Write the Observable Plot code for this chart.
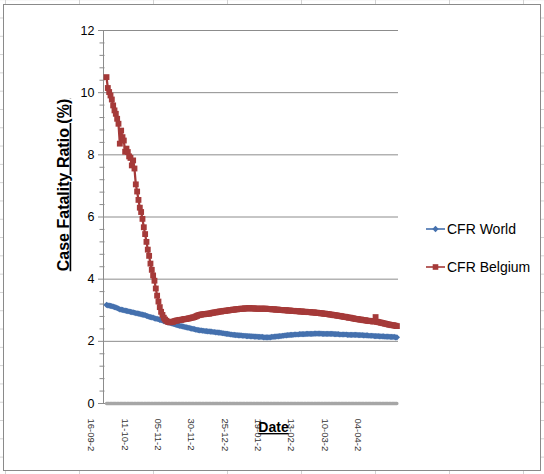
<!DOCTYPE html>
<html>
<head>
<meta charset="utf-8">
<script src="https://cdn.jsdelivr.net/npm/d3@7"></script>
<script src="https://cdn.jsdelivr.net/npm/@observablehq/plot@0.6"></script>
<style>
  html, body { margin: 0; padding: 0; background: #fff; }
  #page {
    position: relative; width: 544px; height: 474px; overflow: hidden;
    background-color: #fff;
    background-image:
      linear-gradient(to right, #d2d2d2 1px, transparent 1px),
      linear-gradient(to bottom, #d2d2d2 1px, transparent 1px);
    background-size: 74px 18.3px;
    background-position: 5px 17.5px;
  }
  #frame {
    position: absolute; left: 3px; top: 4px; width: 536px; height: 465px;
    border: 1px solid #8a8a8a; background: #fff;
  }
  #chart { position: absolute; left: 0; top: 0; }
  #legend { position: absolute; left: 426px; top: 0; font-family: "Liberation Sans", Arial, sans-serif; font-size: 14px; color: #000; }
  .row { position: absolute; left: 0; display: flex; align-items: center; white-space: nowrap; height: 16px; }
  .row svg { display: block; margin-right: 2px; }
</style>
</head>
<body>
<div id="page">
  <div id="frame"></div>
  <div id="chart"></div>
  <div id="legend"></div>
</div>
<script>
// ---- data ----
const seriesNames = ["CFR World", "CFR Belgium"];
const xTickLabels = ["16-09-2", "11-10-2", "05-11-2", "30-11-2", "25-12-2", "19-01-2", "13-02-2", "10-03-2", "04-04-2"];
const xTickDays = [0, 25, 50, 75, 100, 125, 150, 175, 200];
const yTicks = [0, 2, 4, 6, 8, 10, 12];
const yTitle = "Case Fatality Ratio (%)";
const xTitle = "Date";

const cfrWorld = [
  3.17,3.16,3.15,3.14,3.13,3.12,3.10,3.09,3.07,3.05,
  3.03,3.02,3.01,3.00,2.99,2.98,2.97,2.96,2.95,2.94,
  2.93,2.92,2.91,2.90,2.89,2.88,2.87,2.86,2.85,2.84,
  2.82,2.81,2.79,2.78,2.77,2.76,2.74,2.73,2.72,2.71,
  2.69,2.68,2.67,2.65,2.64,2.63,2.61,2.60,2.59,2.58,
  2.56,2.55,2.54,2.52,2.51,2.50,2.49,2.48,2.47,2.46,
  2.45,2.44,2.43,2.42,2.41,2.40,2.39,2.38,2.37,2.36,
  2.35,2.35,2.34,2.34,2.33,2.33,2.32,2.32,2.31,2.31,
  2.30,2.30,2.29,2.29,2.28,2.28,2.27,2.26,2.26,2.25,
  2.24,2.24,2.23,2.22,2.22,2.21,2.21,2.20,2.20,2.19,
  2.19,2.19,2.18,2.18,2.18,2.17,2.17,2.17,2.16,2.16,
  2.16,2.15,2.15,2.15,2.14,2.14,2.14,2.14,2.13,2.13,
  2.13,2.13,2.13,2.13,2.14,2.14,2.15,2.15,2.16,2.16,
  2.17,2.17,2.18,2.18,2.19,2.19,2.20,2.20,2.21,2.21,
  2.21,2.22,2.22,2.22,2.22,2.23,2.23,2.23,2.23,2.23,
  2.24,2.24,2.24,2.24,2.24,2.24,2.25,2.25,2.25,2.25,
  2.25,2.25,2.24,2.24,2.24,2.24,2.24,2.24,2.24,2.24,
  2.24,2.23,2.23,2.23,2.23,2.22,2.22,2.22,2.22,2.22,
  2.22,2.21,2.21,2.21,2.21,2.21,2.21,2.21,2.21,2.20,
  2.20,2.20,2.20,2.19,2.19,2.19,2.19,2.18,2.18,2.18,
  2.18,2.17,2.17,2.17,2.17,2.16,2.16,2.16,2.16,2.15,
  2.15,2.15,2.15,2.14,2.14,2.14,2.14,2.13,2.13
];

const cfrBelgium = [
  10.50,10.15,10.02,9.91,9.78,9.59,9.43,9.32,9.16,9.00,
  8.36,8.78,8.57,8.46,8.10,8.20,8.09,7.95,7.90,7.66,
  7.82,7.56,7.05,6.82,6.55,6.30,6.16,5.94,5.67,5.45,
  5.20,4.95,4.75,4.50,4.30,4.12,3.95,3.70,3.47,3.28,
  3.10,2.95,2.85,2.76,2.70,2.66,2.63,2.62,2.61,2.62,
  2.63,2.65,2.66,2.67,2.68,2.69,2.69,2.70,2.71,2.72,
  2.72,2.73,2.74,2.75,2.76,2.77,2.78,2.80,2.82,2.84,
  2.85,2.86,2.87,2.87,2.88,2.88,2.89,2.89,2.90,2.91,
  2.92,2.93,2.93,2.94,2.95,2.96,2.96,2.97,2.98,2.98,
  2.99,2.99,3.00,3.01,3.01,3.02,3.02,3.03,3.03,3.04,
  3.04,3.05,3.05,3.05,3.06,3.06,3.06,3.07,3.06,3.06,
  3.06,3.06,3.05,3.05,3.05,3.05,3.05,3.05,3.05,3.05,
  3.05,3.04,3.04,3.04,3.03,3.03,3.03,3.02,3.02,3.02,
  3.01,3.01,3.01,3.00,3.00,3.00,2.99,2.99,2.99,2.98,
  2.98,2.98,2.97,2.97,2.97,2.96,2.96,2.96,2.95,2.95,
  2.95,2.94,2.94,2.94,2.93,2.93,2.93,2.92,2.92,2.91,
  2.91,2.90,2.90,2.89,2.89,2.88,2.88,2.87,2.86,2.86,
  2.85,2.84,2.84,2.83,2.82,2.82,2.81,2.80,2.79,2.79,
  2.78,2.77,2.76,2.76,2.75,2.74,2.73,2.72,2.72,2.71,
  2.70,2.70,2.69,2.68,2.68,2.67,2.66,2.66,2.65,2.65,
  2.64,2.64,2.78,2.63,2.62,2.61,2.60,2.59,2.58,2.57,
  2.56,2.55,2.54,2.53,2.52,2.52,2.51,2.50,2.49
];

// third (unlabelled) series that sits on zero
const cfrOther = [
  0,0,0,0,0,0,0,0,0,0, 0,0,0,0,0,0,0,0,0,0,
  0,0,0,0,0,0,0,0,0,0, 0,0,0,0,0,0,0,0,0,0,
  0,0,0,0,0,0,0,0,0,0, 0,0,0,0,0,0,0,0,0,0,
  0,0,0,0,0,0,0,0,0,0, 0,0,0,0,0,0,0,0,0,0,
  0,0,0,0,0,0,0,0,0,0, 0,0,0,0,0,0,0,0,0,0,
  0,0,0,0,0,0,0,0,0,0, 0,0,0,0,0,0,0,0,0,0,
  0,0,0,0,0,0,0,0,0,0, 0,0,0,0,0,0,0,0,0,0,
  0,0,0,0,0,0,0,0,0,0, 0,0,0,0,0,0,0,0,0,0,
  0,0,0,0,0,0,0,0,0,0, 0,0,0,0,0,0,0,0,0,0,
  0,0,0,0,0,0,0,0,0,0, 0,0,0,0,0,0,0,0,0,0,
  0,0,0,0,0,0,0,0,0,0, 0,0,0,0,0,0,0,0,0
];

// ---- styling ----
const blue = "#4571AE";
const red = "#A53A39";
const grey = "#8c8c8c";
const seriesColors = [blue, red];

const W = 544, H = 474, mL = 103, mR = 146, mT = 30, mB = 71;
const xMin = -2.25, xMax = 219.2;
const pxPerDay = (W - mL - mR) / (xMax - xMin);
const yMinor = d3.range(0.4, 12, 0.4).filter(v => Math.abs(v / 2 - Math.round(v / 2)) > 0.01);

const rows = arr => arr.map((v, i) => ({day: i, value: v}));
const world = rows(cfrWorld), belgium = rows(cfrBelgium), other = rows(cfrOther);

const chart = Plot.plot({
  width: W, height: H,
  marginLeft: mL, marginRight: mR, marginTop: mT, marginBottom: mB,
  x: {domain: [xMin, xMax], axis: null},
  y: {domain: [0, 12], axis: null},
  style: {background: "transparent", fontFamily: "'Liberation Sans', Arial, sans-serif", overflow: "visible"},
  marks: [
    Plot.ruleY(yTicks, {stroke: grey, strokeWidth: 1}),
    Plot.ruleX([xMin], {y1: 0, y2: 12, stroke: grey}),
    Plot.ruleY(yTicks, {x1: xMin - 5 / pxPerDay, x2: xMin, stroke: grey}),
    Plot.ruleY(yMinor, {x1: xMin - 3.5 / pxPerDay, x2: xMin + 1.5 / pxPerDay, stroke: grey}),
    Plot.text(yTicks, {x: xMin, y: d => d, text: d => String(d), textAnchor: "end", dx: -9, fontSize: 12.5, fill: "#000"}),
    Plot.line(other, {x: "day", y: "value", stroke: "#a6a6a6", strokeWidth: 3.3, strokeDasharray: "2.5,0.9"}),
    Plot.line(world, {x: "day", y: "value", stroke: blue, strokeWidth: 2.25}),
    Plot.dot(world, {x: "day", y: "value", symbol: "diamond2", r: 2.8, fill: blue}),
    Plot.line(belgium, {x: "day", y: "value", stroke: red, strokeWidth: 2.25}),
    Plot.dot(belgium, {x: "day", y: "value", symbol: "square", r: 3.3, fill: red}),
    Plot.text(xTickDays, {x: d => d, y: 0, text: (d, i) => xTickLabels[i], rotate: 90, textAnchor: "start", lineAnchor: "middle", dx: -15, dy: 15, fontSize: 9.5, fill: "#333"}),
    Plot.text([yTitle], {frameAnchor: "left", text: d => d, rotate: -90, textAnchor: "middle", lineAnchor: "middle", dx: -40, dy: -32, fontSize: 16, fontWeight: "bold", fill: "#000"}),
    Plot.text([xTitle], {frameAnchor: "bottom", text: d => d, textAnchor: "middle", lineAnchor: "middle", dx: 22.5, dy: 24, fontSize: 14, fontWeight: "bold", fill: "#000"})
  ]
});
document.getElementById("chart").appendChild(chart);
chart.querySelectorAll("text").forEach(t => {
  if (t.textContent === yTitle || t.textContent === xTitle) t.style.textDecoration = "underline";
});

// ---- legend ----
const legend = document.getElementById("legend");
const rowCenters = [229, 266.5];
seriesNames.forEach((name, i) => {
  const row = document.createElement("div");
  row.className = "row";
  row.style.top = (rowCenters[i] - 8) + "px";
  const c = seriesColors[i];
  const marker = i === 0
    ? `<path d="M9.5,4.8 L12.7,8 L9.5,11.2 L6.3,8 Z" fill="${c}"/>`
    : `<rect x="6.7" y="5.2" width="5.6" height="5.6" fill="${c}"/>`;
  row.innerHTML = `<svg width="19" height="16"><line x1="0" y1="8" x2="19" y2="8" stroke="${c}" stroke-width="1.6"/>${marker}</svg><span>${name}</span>`;
  legend.appendChild(row);
});
</script>
</body>
</html>
